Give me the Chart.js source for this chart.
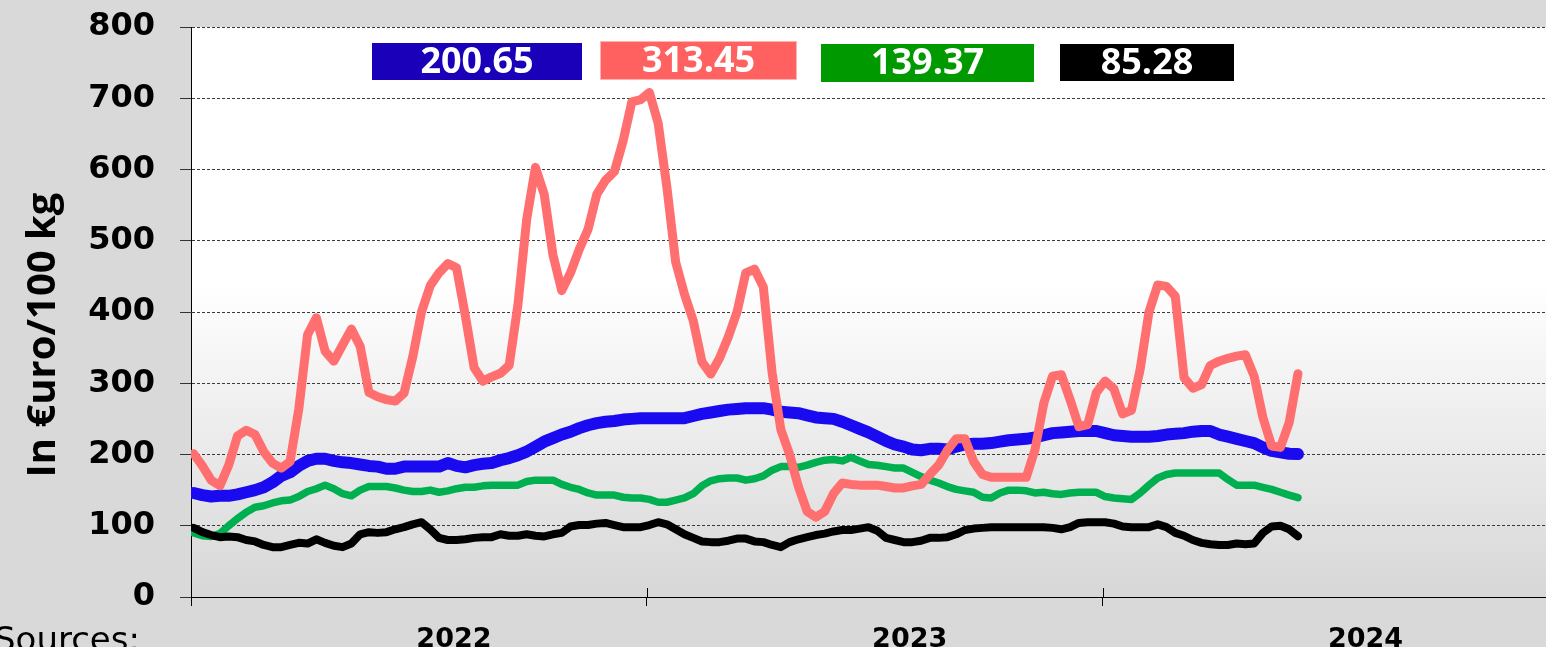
<!DOCTYPE html>
<html>
<head>
<meta charset="utf-8">
<script src="https://cdn.jsdelivr.net/npm/chart.js@4.4.1/dist/chart.umd.min.js"></script>
<style>
  html, body { margin: 0; padding: 0; background: #d9d9d9; }
  canvas { display: block; }
</style>
</head>
<body>
<canvas id="priceChart" width="1546" height="647"></canvas>
<script>
// Weekly prices in euro / 100 kg, week 0 = first week of 2022
const weeks = [
  0, 1, 2, 3, 4, 5, 6, 7, 8, 9, 10, 11, 12, 13, 14, 15, 16, 17, 18, 19,
  20, 21, 22, 23, 24, 25, 26, 27, 28, 29, 30, 31, 32, 33, 34, 35, 36, 37, 38, 39,
  40, 41, 42, 43, 44, 45, 46, 47, 48, 49, 50, 51, 52, 53, 54, 55, 56, 57, 58, 59,
  60, 61, 62, 63, 64, 65, 66, 67, 68, 69, 70, 71, 72, 73, 74, 75, 76, 77, 78, 79,
  80, 81, 82, 83, 84, 85, 86, 87, 88, 89, 90, 91, 92, 93, 94, 95, 96, 97, 98, 99,
  100, 101, 102, 103, 104, 105, 106, 107, 108, 109, 110, 111, 112, 113, 114, 115, 116, 117, 118, 119,
  120, 121, 122, 123, 124, 125, 126
];

const bluePrices = [
  146, 143, 141, 142, 142, 144, 147, 150, 154, 161, 170, 175, 184, 191, 194, 194, 191, 189, 188, 186,
  184, 183, 180, 180, 183, 183, 183, 183, 183, 188, 184, 182, 185, 187, 188, 192, 195, 199, 204, 211,
  218, 223, 228, 232, 237, 241, 244, 246, 247, 249, 250, 251, 251, 251, 251, 251, 251, 254, 257, 259,
  261, 263, 264, 265, 265, 265, 263, 260, 259, 258, 255, 252, 251, 250, 246, 241, 236, 231, 225, 219,
  214, 211, 207, 206, 208, 208, 207, 211, 214, 215, 215, 216, 218, 220, 221, 222, 224, 227, 230, 231,
  232, 233, 233, 233, 230, 227, 226, 225, 225, 225, 226, 228, 229, 230, 232, 233, 233, 228, 225, 222,
  219, 216, 210, 205, 203, 201, 200.65
];

const redPrices = [
  201, 184, 164, 156, 185, 226, 234, 228, 204, 188, 181, 190, 264, 368, 392, 345, 331, 354, 376, 352,
  287, 281, 277, 275, 286, 337, 400, 437, 455, 468, 462, 395, 322, 303, 309, 314, 325, 410, 530, 603,
  565, 480, 430, 455, 488, 516, 565, 585, 597, 640, 695, 698, 708, 665, 575, 470, 425, 388, 330, 313,
  335, 365, 400, 455, 460, 435, 315, 235, 200, 155, 120, 112, 120, 145, 160, 158, 157, 157, 157, 155,
  153, 153, 156, 158, 172, 185, 206, 222, 222, 190, 172, 168, 168, 168, 168, 168, 207, 272, 310, 312,
  277, 239, 242, 287, 303, 292, 257, 262, 320, 400, 438, 436, 422, 308, 293, 298, 325, 331, 335, 338,
  340, 310, 252, 212, 210, 245, 313.45
];

const greenPrices = [
  90, 86, 85, 89, 100, 110, 119, 126, 128, 132, 135, 136, 141, 148, 152, 157, 152, 145, 142, 150,
  155, 155, 155, 153, 150, 148, 148, 150, 147, 149, 152, 154, 154, 156, 157, 157, 157, 157, 162, 164,
  164, 164, 158, 154, 151, 146, 143, 143, 143, 140, 139, 139, 137, 133, 133, 136, 139, 145, 156, 163,
  166, 167, 167, 164, 166, 170, 178, 183, 183, 182, 185, 189, 192, 193, 191, 196, 191, 186, 185, 183,
  181, 181, 175, 169, 164, 160, 155, 151, 149, 147, 140, 139, 146, 150, 150, 149, 146, 147, 145, 144,
  146, 147, 147, 147, 141, 139, 138, 137, 146, 157, 167, 172, 174, 174, 174, 174, 174, 174, 165, 157,
  157, 157, 154, 151, 147, 143, 139.37
];

const blackPrices = [
  97, 91, 87, 84, 85, 84, 80, 78, 73, 70, 70, 73, 76, 75, 81, 76, 72, 70, 75, 88,
  91, 90, 91, 95, 98, 102, 105, 95, 83, 80, 80, 81, 83, 84, 84, 88, 86, 86, 88, 86,
  85, 88, 90, 99, 101, 101, 103, 104, 101, 98, 98, 98, 101, 105, 102, 95, 88, 83, 78, 77,
  77, 79, 82, 82, 78, 77, 73, 70, 77, 81, 84, 87, 89, 92, 94, 94, 96, 98, 93, 83,
  80, 77, 77, 79, 83, 83, 84, 88, 94, 96, 97, 98, 98, 98, 98, 98, 98, 98, 97, 95,
  98, 104, 105, 105, 105, 103, 99, 98, 98, 98, 102, 98, 90, 86, 80, 76, 74, 73, 73, 75,
  74, 75, 90, 99, 100, 95, 85.28
];

// x axis: tick marks at year starts, labels between them
const yearStartWeeks = [-0.3, 51.7, 103.7];
const yearLabelWeeks = [29.7, 81.7, 133.7];
const yearLabels = ['2022', '2023', '2024'];
const yTicks = [0, 100, 200, 300, 400, 500, 600, 700, 800];

// value boxes at the top, one per series
const boxLayout = [
  { series: 'blue',  left: 372,  top: 43, width: 210, height: 37, fill: '#1a00b8' },
  { series: 'red',   left: 600,  top: 41, width: 197, height: 39, fill: '#ff6161', stroke: '#ffb3b3' },
  { series: 'green', left: 821,  top: 44, width: 213, height: 38, fill: '#009900' },
  { series: 'black', left: 1060, top: 44, width: 174, height: 37, fill: '#000000' }
];

const seriesStyle = {
  black: { data: blackPrices, color: '#000000', width: 8 },
  red:   { data: redPrices,   color: '#ff6f6f', width: 9 },
  green: { data: greenPrices, color: '#00b050', width: 7.5 },
  blue:  { data: bluePrices,  color: '#1a0af0', width: 12 }
};

function toPoints(values) {
  return weeks.map((w, i) => ({ x: w, y: values[i] }));
}

// background gradient in the plot and the extra texts / boxes
const decorPlugin = {
  id: 'decor',
  beforeDraw(chart) {
    const { ctx, chartArea: a } = chart;
    const g = ctx.createLinearGradient(0, a.top, 0, a.bottom);
    g.addColorStop(0, '#ffffff');
    g.addColorStop(0.45, '#ffffff');
    g.addColorStop(1, '#d7d7d7');
    ctx.save();
    ctx.fillStyle = g;
    ctx.fillRect(a.left, a.top, a.right - a.left, a.bottom - a.top);
    ctx.restore();
  },
  afterDraw(chart) {
    const { ctx, chartArea: a } = chart;
    const xs = chart.scales.x;
    ctx.save();

    // inner half of the crossing tick marks on the x axis
    ctx.strokeStyle = '#000';
    ctx.lineWidth = 1;
    yearStartWeeks.forEach(w => {
      const px = Math.round(xs.getPixelForValue(w)) + 0.5;
      ctx.beginPath();
      ctx.moveTo(px, a.bottom - 9);
      ctx.lineTo(px, a.bottom);
      ctx.stroke();
    });

    // year labels
    ctx.fillStyle = '#000';
    ctx.font = 'bold 27px "DejaVu Sans"';
    ctx.textAlign = 'center';
    ctx.textBaseline = 'alphabetic';
    yearLabels.forEach((lab, i) => {
      ctx.fillText(lab, xs.getPixelForValue(yearLabelWeeks[i]), 647);
    });

    // sources note, cut by the bottom edge
    ctx.textAlign = 'left';
    ctx.font = '34px "DejaVu Sans"';
    ctx.fillText('Sources:', -6, 651);

    // y axis title
    ctx.save();
    ctx.translate(44, 335);
    ctx.rotate(-Math.PI / 2);
    ctx.textAlign = 'center';
    ctx.textBaseline = 'middle';
    ctx.font = 'bold 40px "Open Sans"';
    ctx.fillText('In €uro/100 kg', 0, 0);
    ctx.restore();

    // last values in coloured boxes
    boxLayout.forEach(b => {
      const vals = seriesStyle[b.series].data;
      const txt = vals[vals.length - 1].toFixed(2);
      ctx.fillStyle = b.fill;
      ctx.fillRect(b.left, b.top, b.width, b.height);
      if (b.stroke) {
        ctx.strokeStyle = b.stroke;
        ctx.strokeRect(b.left + 0.5, b.top + 0.5, b.width - 1, b.height - 1);
      }
      ctx.fillStyle = '#ffffff';
      ctx.font = 'bold 36px "Open Sans"';
      ctx.textAlign = 'center';
      ctx.textBaseline = 'middle';
      ctx.fillText(txt, b.left + b.width / 2, b.top + b.height / 2 + 1);
    });

    ctx.restore();
  }
};

const datasets = ['black', 'red', 'green', 'blue'].map(key => ({
  label: key,
  data: toPoints(seriesStyle[key].data),
  borderColor: seriesStyle[key].color,
  borderWidth: seriesStyle[key].width,
  borderCapStyle: 'round',
  borderJoinStyle: 'round',
  pointRadius: 0,
  tension: 0,
  fill: false
}));

new Chart(document.getElementById('priceChart').getContext('2d'), {
  type: 'line',
  data: { datasets: datasets },
  options: {
    responsive: false,
    animation: false,
    layout: { padding: { left: 0, right: 0, top: 27, bottom: 41 } },
    plugins: {
      legend: { display: false },
      tooltip: { enabled: false }
    },
    scales: {
      x: {
        type: 'linear',
        min: -0.3,
        max: 154.3,
        afterBuildTicks(scale) {
          scale.ticks = yearStartWeeks.map(v => ({ value: v }));
        },
        afterFit(scale) {
          scale.paddingLeft = 0;
          scale.paddingRight = 0;
        },
        ticks: { display: false },
        grid: {
          drawOnChartArea: false,
          tickLength: 9,
          color: '#000'
        },
        border: { color: '#000', width: 1 }
      },
      y: {
        min: 0,
        max: 800,
        afterBuildTicks(scale) {
          scale.ticks = yTicks.map(v => ({ value: v }));
        },
        afterFit(scale) {
          scale.width = 191;
          scale.paddingTop = 0;
          scale.paddingBottom = 0;
        },
        ticks: {
          padding: 25,
          color: '#000',
          font: { family: 'DejaVu Sans', weight: 'bold', size: 32 }
        },
        grid: {
          color: '#3a3a3a',
          lineWidth: 1,
          tickLength: 11,
          tickColor: '#333',
          tickBorderDash: []
        },
        border: { color: '#000', width: 1, dash: [3, 2] }
      }
    }
  },
  plugins: [decorPlugin]
});
</script>
</body>
</html>
